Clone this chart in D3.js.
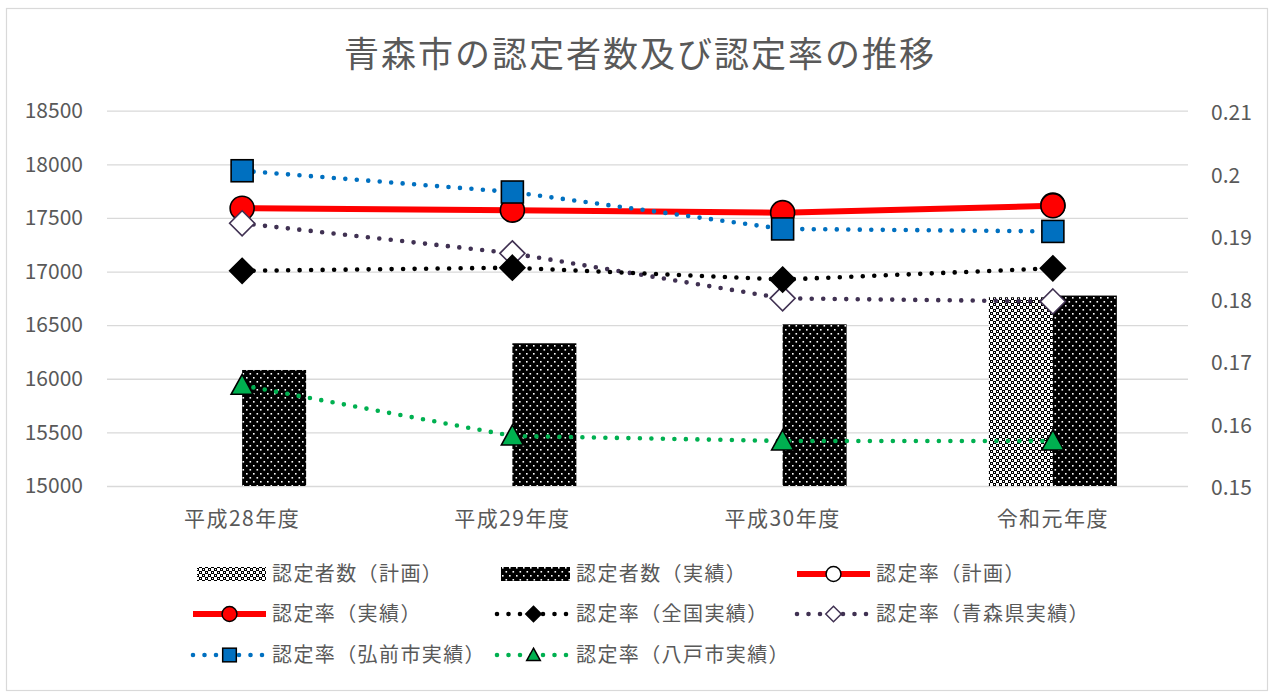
<!DOCTYPE html>
<meta charset="utf-8">
<style>
body { margin: 0; background: #fff; }
text { font-family: "Noto Sans CJK JP", "Noto Sans", sans-serif; fill: #595959; }
</style>
<body>
<svg id="chart" width="1271" height="692"></svg>
<script src="https://cdn.jsdelivr.net/npm/d3@7"></script>
<script>
// data
var categories = ["平成28年度", "平成29年度", "平成30年度", "令和元年度"];
var planCount = [null, null, null, 16760];
var actualCount = [16082, 16331, 16508, 16776];
var planRate = [null, null, null, 0.1949];
var actualRate = [0.1944, 0.1941, 0.1937, 0.1948];
var nationalRate = [0.1844, 0.1849, 0.1830, 0.1848];
var prefRate = [0.1920, 0.1872, 0.1800, 0.1795];
var hirosakiRate = [0.2004, 0.1970, 0.1911, 0.1907];
var hachinoheRate = [0.1661, 0.1580, 0.1572, 0.1572];
var leftTicks = [15000, 15500, 16000, 16500, 17000, 17500, 18000, 18500];
var rightTicks = [0.15, 0.16, 0.17, 0.18, 0.19, 0.2, 0.21];

var svg = d3.select("#chart");
var W = 1271, H = 692;
var plotTop = 110.7, plotBottom = 486, plotLeft = 107, plotRight = 1188;

// patterns for the bars
var defs = svg.append("defs");
var pA = defs.append("pattern").attr("id", "dots").attr("patternUnits", "userSpaceOnUse")
  .attr("width", 7).attr("height", 8);
pA.append("rect").attr("width", 7).attr("height", 8).attr("fill", "#000");
pA.append("rect").attr("x", 1).attr("y", 1).attr("width", 1.6).attr("height", 1.6).attr("fill", "#fff");
pA.append("rect").attr("x", 4.5).attr("y", 5).attr("width", 1.6).attr("height", 1.6).attr("fill", "#fff");
var pP = defs.append("pattern").attr("id", "check").attr("patternUnits", "userSpaceOnUse")
  .attr("width", 6).attr("height", 6);
pP.append("rect").attr("width", 6).attr("height", 6).attr("fill", "#fff");
pP.append("rect").attr("x", 0).attr("y", 0).attr("width", 3).attr("height", 3).attr("fill", "#000");
pP.append("rect").attr("x", 3).attr("y", 3).attr("width", 3).attr("height", 3).attr("fill", "#000");
pP.append("rect").attr("x", 1).attr("y", 1).attr("width", 1).attr("height", 1).attr("fill", "#fff");
pP.append("rect").attr("x", 4).attr("y", 4).attr("width", 1).attr("height", 1).attr("fill", "#fff");

svg.append("rect").attr("width", W).attr("height", H).attr("fill", "#fff");
svg.append("rect").attr("x", 6.5).attr("y", 8.5).attr("width", 1261).attr("height", 682)
  .attr("fill", "none").attr("stroke", "#d9d9d9").attr("stroke-width", 1.2);

var x = d3.scaleBand().domain(categories).range([plotLeft, plotRight]);
var cx = function (c) { return x(c) + x.bandwidth() / 2; };
var xs = d3.scaleBand().domain(["plan", "actual"]).range([-64, 64]);
var yL = d3.scaleLinear().domain([15000, 18500]).range([plotBottom, plotTop]);
var yR = d3.scaleLinear().domain([0.15, 0.21]).range([plotBottom, plotTop]);

// title
svg.append("text").attr("x", 640).attr("y", 67).attr("text-anchor", "middle")
  .style("font-size", "35px").style("letter-spacing", "2px").text("青森市の認定者数及び認定率の推移");

// gridlines + left axis
var gl = svg.append("g").attr("transform", "translate(" + plotLeft + ",0)")
  .call(d3.axisLeft(yL).tickValues(leftTicks).tickSize(-(plotRight - plotLeft)).tickPadding(24).tickFormat(d3.format("d")));
gl.select(".domain").remove();
gl.selectAll("line").attr("stroke", "#d9d9d9").attr("stroke-width", 1.3);
gl.selectAll("text").style("font-size", "21px").attr("fill", "#595959");

// right axis
var gr = svg.append("g").attr("transform", "translate(" + plotRight + ",0)")
  .call(d3.axisRight(yR).tickValues(rightTicks).tickSize(0).tickPadding(23).tickFormat(function (d) { return String(+d.toFixed(2)); }));
gr.select(".domain").remove();
gr.selectAll("text").style("font-size", "21px").attr("fill", "#595959").attr("dy", "0.42em");

// x axis labels
svg.append("g").selectAll("text").data(categories).join("text")
  .attr("x", cx).attr("y", 526).attr("text-anchor", "middle")
  .style("font-size", "21px").style("letter-spacing", "1.5px").text(function (d) { return d; });

// bars
var barData = [];
categories.forEach(function (c, i) {
  if (planCount[i] != null) barData.push({ c: c, s: "plan", v: planCount[i] });
  if (actualCount[i] != null) barData.push({ c: c, s: "actual", v: actualCount[i] });
});
svg.append("g").selectAll("rect").data(barData).join("rect")
  .attr("x", function (d) { return cx(d.c) + xs(d.s); })
  .attr("width", xs.bandwidth())
  .attr("y", function (d) { return yL(d.v); })
  .attr("height", function (d) { return yL(15000) - yL(d.v); })
  .attr("fill", function (d) { return d.s == "plan" ? "url(#check)" : "url(#dots)"; });

// markers
function marker(g, type, fill, stroke) {
  if (type == "circle") g.append("circle").attr("r", 12);
  else if (type == "square") g.append("rect").attr("x", -11).attr("y", -11).attr("width", 22).attr("height", 22);
  else if (type == "diamond") g.append("path").attr("d", "M0,-12.5L12.5,0L0,12.5L-12.5,0Z");
  else if (type == "triangle") g.append("path").attr("d", "M0,-11L11,9L-11,9Z");
  g.selectAll("*").attr("fill", fill).attr("stroke", stroke).attr("stroke-width", 1.6);
}

var series = [
  { name: "認定率（計画）", vals: planRate, color: "#ff0000", solid: true, m: "circle", mf: "#fff", ms: "#000" },
  { name: "認定率（実績）", vals: actualRate, color: "#ff0000", solid: true, m: "circle", mf: "#ff0000", ms: "#000" },
  { name: "認定率（青森県実績）", vals: prefRate, color: "#403152", solid: false, m: "diamond", mf: "#fff", ms: "#403152" },
  { name: "認定率（全国実績）", vals: nationalRate, color: "#000", solid: false, m: "diamond", mf: "#000", ms: "#000" },
  { name: "認定率（弘前市実績）", vals: hirosakiRate, color: "#0070c0", solid: false, m: "square", mf: "#0070c0", ms: "#000" },
  { name: "認定率（八戸市実績）", vals: hachinoheRate, color: "#00b050", solid: false, m: "triangle", mf: "#00b050", ms: "#000" }
];

function styleLine(sel, s) {
  sel.attr("fill", "none").attr("stroke", s.color);
  if (s.solid) sel.attr("stroke-width", 6);
  else sel.attr("stroke-width", 4.6).attr("stroke-dasharray", "0 11.5").attr("stroke-linecap", "round");
}

var line = d3.line().defined(function (d) { return d.v != null; })
  .x(function (d) { return cx(d.c); }).y(function (d) { return yR(d.v); });

series.forEach(function (s) {
  var pts = categories.map(function (c, i) { return { c: c, v: s.vals[i] }; });
  var g = svg.append("g");
  g.append("path").datum(pts).attr("d", line).call(styleLine, s);
  pts.filter(function (d) { return d.v != null; }).forEach(function (d) {
    var mg = g.append("g").attr("transform", "translate(" + cx(d.c) + "," + yR(d.v) + ")");
    marker(mg, s.m, s.mf, s.ms);
  });
});

// legend
var legRows = [574, 614, 655];
var legCols = [190, 494, 794];
var legItems = [
  { name: "認定者数（計画）", bar: "check" },
  { name: "認定者数（実績）", bar: "dots" },
  series[0], series[1], series[3], series[2], series[4], series[5]
];
legItems.forEach(function (it, i) {
  var gx = legCols[i % 3], gy = legRows[Math.floor(i / 3)];
  var g = svg.append("g").attr("transform", "translate(" + gx + "," + gy + ")");
  if (it.bar) {
    g.append("rect").attr("x", 7).attr("y", -7).attr("width", 69).attr("height", 14).attr("fill", "url(#" + it.bar + ")");
  } else {
    g.append("line").attr("x1", 3).attr("x2", 76).attr("y1", 0).attr("y2", 0).call(styleLine, it);
    var mg = g.append("g").attr("transform", "translate(39.5,0) scale(0.62)");
    marker(mg, it.m, it.mf, it.ms);
    mg.selectAll("*").attr("stroke-width", 2.4);
  }
  g.append("text").attr("x", 82).attr("y", 0).attr("dy", "0.36em")
    .style("font-size", "20px").style("letter-spacing", "1.4px").text(it.name);
});
</script>
</body>
